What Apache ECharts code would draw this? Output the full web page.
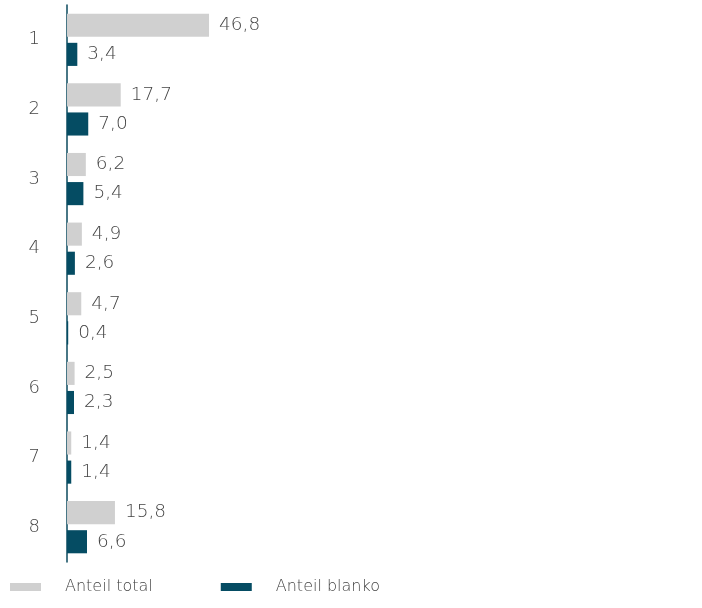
<!DOCTYPE html>
<html><head><meta charset="utf-8">
<script src="https://cdn.jsdelivr.net/npm/echarts@6/dist/echarts.min.js"></script>
<style>html,body{margin:0;padding:0;background:#fff}#c{width:702px;height:608px}</style>
</head><body><div id="c"></div>
<script>
const categories = ['1','2','3','4','5','6','7','8'];
const seriesNames = ['Anteil total','Anteil blanko'];
const totalValues = [46.8, 17.7, 6.2, 4.9, 4.7, 2.5, 1.4, 15.8];
const blankoValues = [3.4, 7.0, 5.4, 2.6, 0.4, 2.3, 1.4, 6.6];

const font = '"DejaVu Sans"';
const txt = '#444';
const chart = echarts.init(document.getElementById('c'), null, {renderer:'canvas'});
const lbl = {
  show:true, position:'right', distance:10, color:txt, fontFamily:font, fontWeight:200, fontSize:18.5,
  formatter: p => p.value.toFixed(1).replace('.', ',')
};
chart.setOption({
  animation:false,
  grid:{left:67, right:28, top:5, bottom:46, containLabel:false},
  legend:{
    left:5, top:574, itemWidth:31, itemHeight:8, itemGap:68, icon:'rect',
    textStyle:{color:txt, fontFamily:font, fontWeight:200, fontSize:16, padding:[0,0,0,19]},
    data:seriesNames
  },
  xAxis:{type:'value', min:0, max:200, show:false},
  yAxis:{type:'category', inverse:true, data:categories,
    axisLine:{show:true, lineStyle:{color:'#0b4a5e', width:1.5}},
    axisTick:{show:false},
    axisLabel:{color:txt, fontFamily:font, fontWeight:200, fontSize:18, margin:27}
  },
  series:[
    {name:seriesNames[0], type:'bar', data:totalValues, itemStyle:{color:'#d0d0d0'},
     barGap:'26%', barCategoryGap:'25%', label:lbl},
    {name:seriesNames[1], type:'bar', data:blankoValues, itemStyle:{color:'#054c63'}, label:lbl}
  ]
});
</script></body></html>
